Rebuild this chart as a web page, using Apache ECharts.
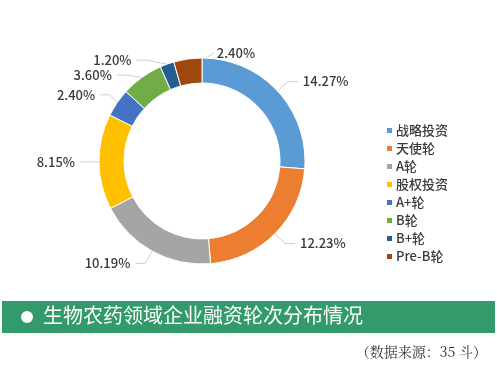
<!DOCTYPE html>
<html>
<head>
<meta charset="utf-8">
<script src="https://cdn.jsdelivr.net/npm/echarts@6/dist/echarts.min.js"></script>
<style>
  html, body { margin: 0; padding: 0; background: #fff; }
  #chart { width: 497px; height: 376px; }
</style>
</head>
<body>
<div id="chart"></div>
<script>
// funding rounds
const rounds = ['战略投资', '天使轮', 'A轮', '股权投资', 'A+轮', 'B轮', 'B+轮', 'Pre-B轮']
const shares = [14.27, 12.23, 10.19, 8.15, 2.40, 3.60, 1.20, 2.40]
const colors = ['#5B9BD5', '#ED7D31', '#A5A5A5', '#FFC000', '#4472C4', '#70AD47', '#255E91', '#9E480E']

const titleText = '生物农药领域企业融资轮次分布情况'
const sourceText = '（数据来源：35 斗）'

const chart = echarts.init(document.getElementById('chart'), null, { renderer: 'canvas' })

const option = {
  animation: false,
  color: colors,
  legend: {
    orient: 'vertical',
    left: 380,
    top: 119,
    itemWidth: 7,
    itemHeight: 7,
    itemGap: 5,
    icon: 'rect',
    textStyle: {
      fontFamily: 'Noto Sans CJK SC',
      fontSize: 13,
      fontWeight: 500,
      color: '#3a3a3a',
      padding: [0, 0, 0, -2]
    },
    data: rounds
  },
  series: [
    {
      type: 'pie',
      center: [202, 161],
      radius: [78, 103],
      startAngle: 90,
      clockwise: true,
      avoidLabelOverlap: true,
      itemStyle: { borderColor: '#fff', borderWidth: 1 },
      label: {
        show: true,
        formatter: p => p.value.toFixed(2) + '%',
        fontFamily: 'Noto Sans CJK SC',
        fontSize: 13,
        fontWeight: 500,
        color: '#3a3a3a'
      },
      labelLine: {
        length: 14,
        length2: 10,
        lineStyle: { color: '#CFCFCF', width: 1 }
      },
      // last slice label sits just right of the top, as in the original
      labelLayout: function (params) {
        if (params.dataIndex !== shares.length - 1 || !params.labelLinePoints) return {}
        const p0 = params.labelLinePoints[0]
        const p2 = [p0[0] + 26, p0[1] - 6]
        return {
          x: p2[0] + 3,
          y: p2[1],
          align: 'left',
          verticalAlign: 'middle',
          labelLinePoints: [[p0[0] - 2, p0[1] + 12], p2, p2]
        }
      },
      data: rounds.map((name, i) => ({ name: name, value: shares[i] }))
    }
  ],
  graphic: [
    {
      type: 'rect',
      left: 2,
      top: 301,
      shape: { width: 493, height: 32 },
      style: { fill: '#329A6B' }
    },
    {
      type: 'circle',
      left: 21,
      top: 311,
      shape: { r: 6 },
      style: { fill: '#fff' }
    },
    {
      type: 'text',
      left: 43,
      top: 305,
      style: {
        text: titleText,
        fill: '#fff',
        font: '20px "Noto Sans CJK SC"'
      }
    },
    {
      type: 'text',
      right: 10,
      top: 345,
      style: {
        text: sourceText,
        fill: '#333',
        font: '14px "Noto Serif CJK SC", "Noto Sans CJK SC"'
      }
    }
  ]
}

chart.setOption(option)
</script>
</body>
</html>
